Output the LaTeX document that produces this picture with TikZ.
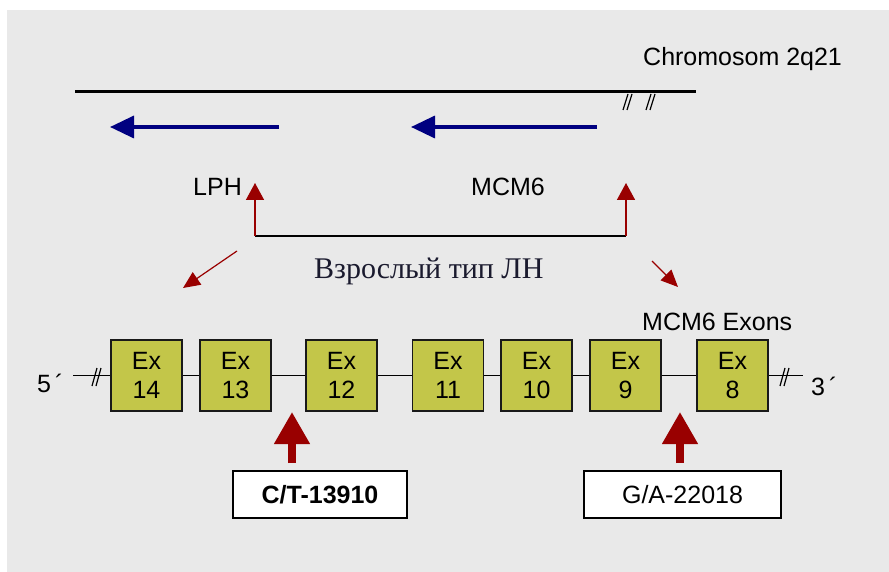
\documentclass[tikz,border=0pt]{standalone}
\usepackage{fontspec}
\setmainfont{Liberation Sans}
\newfontfamily\rufont{Liberation Serif}
\usetikzlibrary{arrows.meta}
\definecolor{bg}{HTML}{E9E9E9}
\definecolor{exfill}{HTML}{C3C649}
\definecolor{navy}{HTML}{000080}
\definecolor{dred}{HTML}{990000}
\definecolor{rutext}{HTML}{1A1A2E}
\begin{document}
\begin{tikzpicture}[x=1pt,y=-1pt,
  lbl/.style={font=\fontsize{25}{29}\selectfont, inner sep=0pt},
  exon/.style={draw=black!90, line width=1.5pt, fill=exfill, minimum width=71pt, minimum height=71pt, inner sep=0pt, align=center, font=\fontsize{25}{29}\selectfont},
  snpbox/.style={draw=black, line width=1.2pt, fill=white, minimum height=47pt, inner sep=0pt, font=\fontsize{25}{29}\selectfont},
  genearrow/.style={navy, line width=3.5pt, -{Triangle[width=22pt,length=24pt]}},
  uparrow/.style={dred, line width=1.5pt, -{Triangle[width=18pt,length=17pt]}},
  diagarrow/.style={dred, line width=1.2pt, -{Triangle[width=15pt,length=17pt]}},
  bigarrow/.style={dred, line width=7.5pt, -{Triangle[width=34pt,length=32pt]}},
  brk/.style={black, line width=1.2pt},
]
\useasboundingbox (0,0) rectangle (889,572);
\fill[white] (0,0) rectangle (889,572);
\fill[bg] (7,10) rectangle (889,572);

% chromosome
\node[lbl, anchor=base west] (chrom) at (643,66) {Chromosom 2q21};
\coordinate (c1) at (75,92);
\coordinate (c2) at (696,92);
\draw[line width=3pt] (c1) -- (c2);
\draw[brk] (628,94) -- (623,110) (632,94) -- (627,110);
\draw[brk] (651,94) -- (646,110) (655,94) -- (650,110);

% gene direction arrows
\coordinate (lphS) at (279,127);
\coordinate (lphE) at (110,127);
\coordinate (mcmS) at (597,127);
\coordinate (mcmE) at (411,127);
\draw[genearrow] (lphS) -- (lphE);
\draw[genearrow] (mcmS) -- (mcmE);

\node[lbl, anchor=base west] (lph) at (193,196) {LPH};
\node[lbl, anchor=base west] (mcm6) at (471,196) {MCM6};

% bracket with red arrows
\coordinate (jl) at (255,236);
\coordinate (jr) at (626,236);
\coordinate (tl) at (255,183);
\coordinate (tr) at (626,183);
\draw[line width=1.5pt] (jl) -- (jr);
\draw[uparrow] (jl) -- (tl);
\draw[uparrow] (jr) -- (tr);

\coordinate (d1s) at (237,251);
\coordinate (d1e) at (183,288);
\coordinate (d2s) at (652,261);
\coordinate (d2e) at (678,287);
\draw[diagarrow] (d1s) -- (d1e);
\draw[diagarrow] (d2s) -- (d2e);

\node[inner sep=0pt, anchor=base west, text=rutext, font=\rufont\fontsize{30}{34}\selectfont] (adult) at (314,279) {Взрослый тип ЛН};

\node[lbl, anchor=base west] (exons) at (642,330) {MCM6 Exons};

% exon line
\coordinate (l5) at (73,375.5);
\coordinate (l3) at (803,375.5);
\draw[line width=1.5pt] (l5) -- (l3);
\draw[brk] (97,368) -- (92,386) (101,368) -- (96,386);
\draw[brk] (785,368) -- (780,386) (789,368) -- (784,386);
\node[lbl, anchor=base west] (p5) at (37,392) {5\kern4pt´};
\node[lbl, anchor=base west] (p3) at (811,395) {3\kern4pt´};

\node[exon] (ex14) at (146.5,375.5) {Ex\\14};
\node[exon] (ex13) at (235.5,375.5) {Ex\\13};
\node[exon] (ex12) at (341.5,375.5) {Ex\\12};
\node[exon] (ex11) at (448,375.5) {Ex\\11};
\node[exon] (ex10) at (536.5,375.5) {Ex\\10};
\node[exon] (ex9) at (625.5,375.5) {Ex\\9};
\node[exon] (ex8) at (732.5,375.5) {Ex\\8};

% SNP boxes
\node[snpbox, minimum width=174pt] (ct) at (320,494.5) {\textbf{C/T-13910}};
\node[snpbox, minimum width=197pt] (ga) at (682.5,494.5) {G/A-22018};
\coordinate (s1b) at (292,463);
\coordinate (s1t) at (292,412);
\coordinate (s2b) at (680,463);
\coordinate (s2t) at (680,412);
\draw[bigarrow] (s1b) -- (s1t);
\draw[bigarrow] (s2b) -- (s2t);
\end{tikzpicture}
\end{document}
